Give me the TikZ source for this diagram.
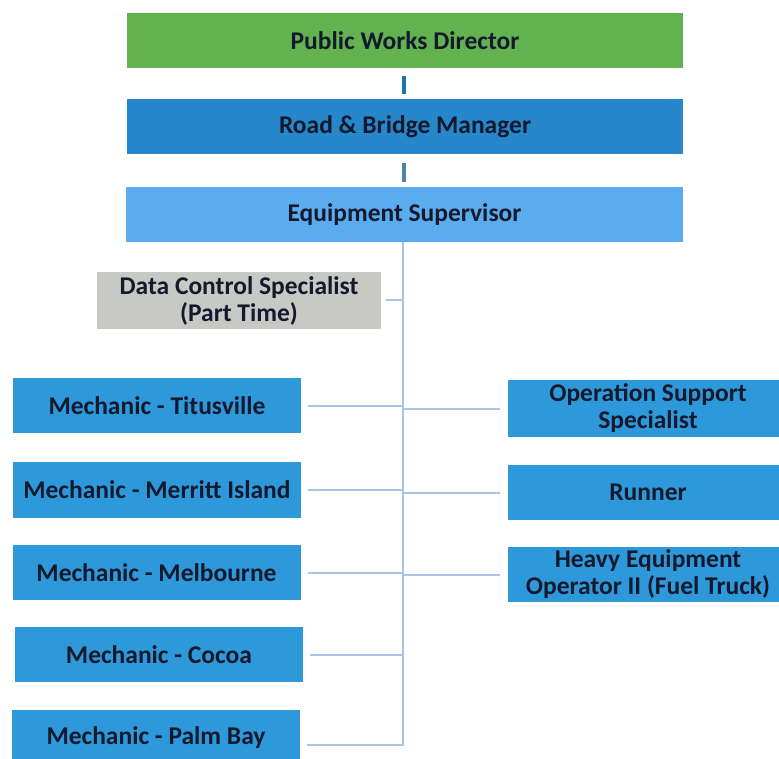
\documentclass[tikz,border=0pt]{standalone}
\usepackage{fontspec}
\setmainfont{Carlito}
\usepackage{tikz}
\definecolor{dirgreen}{RGB}{98,178,80}
\definecolor{mgrblue}{RGB}{38,135,202}
\definecolor{supblue}{RGB}{90,172,238}
\definecolor{staffblue}{RGB}{46,153,218}
\definecolor{partgray}{RGB}{200,200,196}
\definecolor{inkblue}{RGB}{20,25,45}
\definecolor{trunkblue}{RGB}{168,196,234}

\begin{document}
\begin{tikzpicture}[x=1pt,y=-1pt,
  box/.style={rectangle,minimum height=55pt,inner sep=0pt,align=center,
    font=\fontsize{25.5}{27}\selectfont\bfseries,text=inkblue},
  wide/.style={box,minimum width=556pt},
  staff/.style={box,fill=staffblue,minimum width=288pt},
  link/.style={line width=2pt,trunkblue}]
\useasboundingbox (0,0) rectangle (779,759);
\node (PWD) [wide,fill=dirgreen] at (405,41) {Public Works Director};
\node (RBM) [wide,fill=mgrblue] at (405,127) {Road \& Bridge Manager};
\node (ES) [wide,fill=supblue,minimum width=557pt] at (404.5,214.5) {Equipment Supervisor};
\node (DCS) [box,fill=partgray,minimum width=284pt,minimum height=57pt] at (239,300.5) {Data Control Specialist\\(Part Time)};
\node (M1) [staff] at (157,405.5) {Mechanic - Titusville};
\node (M2) [staff,minimum height=56pt] at (157,490) {Mechanic - Merritt Island};
\node (M3) [staff] at (156.5,572.5) {Mechanic - Melbourne};
\node (M4) [staff] at (159,654.5) {Mechanic - Cocoa};
\node (M5) [staff] at (156,737.5) {Mechanic - Palm Bay};
\node (R1) [staff,minimum width=280pt,minimum height=57pt] at (648,408.5) {Operation Support\\Specialist};
\node (R2) [staff,minimum width=280pt] at (648,492.5) {Runner};
\node (R3) [staff,minimum width=280pt] at (648,574.5) {Heavy Equipment\\Operator II (Fuel Truck)};
\coordinate (T) at (403,745);
\draw[line width=4pt,mgrblue!85!black,shorten <=7pt,shorten >=5pt] (PWD.south -| 404,0)--(RBM.north -| 404,0);
\draw[line width=4pt,mgrblue!55!gray,shorten <=8pt,shorten >=5pt] (RBM.south -| 404,0)--(ES.north -| 404,0);
\draw[link,shorten >=7pt] (ES.south -| T)--(T)--(T -| M5.east);
\draw[link,shorten <=5pt] (DCS.east)--(DCS -| T);
\foreach \m in {M1,M2,M3,M4}
  \draw[link,shorten <=7pt] (\m.east)--(\m -| T);
\foreach \r in {R1,R2,R3}
  \draw[link,shorten >=8pt] (\r -| T)--(\r.west);
\end{tikzpicture}
\end{document}
